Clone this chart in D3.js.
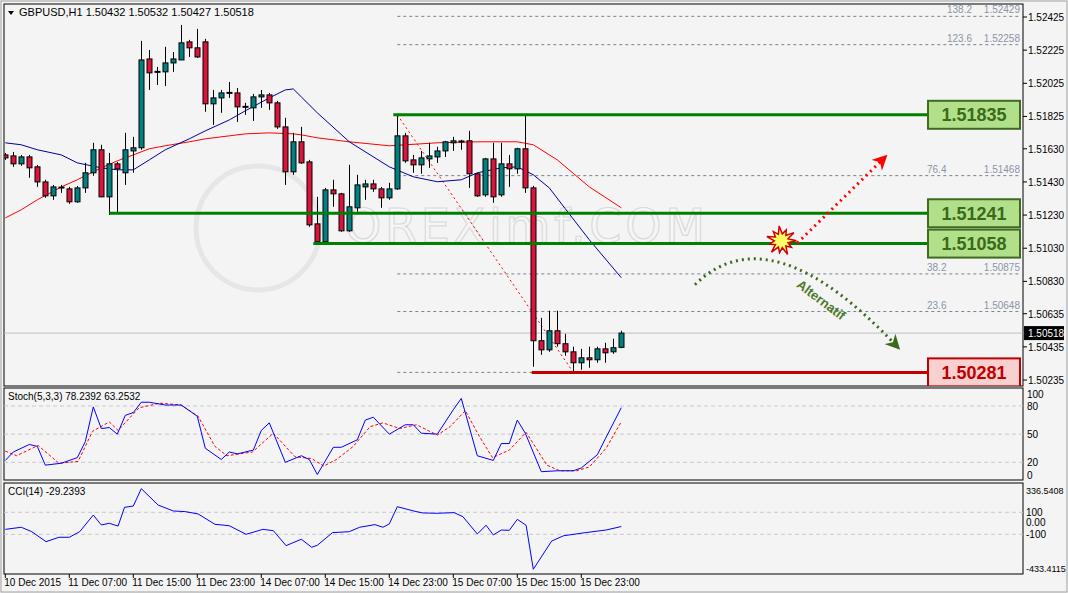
<!DOCTYPE html>
<html><head><meta charset="utf-8">
<script src="https://cdn.jsdelivr.net/npm/d3@7/dist/d3.min.js"></script>
<style>body{margin:0;background:#fff}svg{display:block;font-family:"Liberation Sans",Arial,sans-serif}</style>
</head><body><svg id="c" width="1068" height="593"></svg>
<script>
const opens=[1.51593,1.51587,1.51539,1.51581,1.51521,1.51430,1.51346,1.51394,1.51388,1.51310,1.51394,1.51485,1.51624,1.51340,1.51539,1.51485,1.51617,1.51636,1.52172,1.52094,1.52094,1.52148,1.52166,1.52275,1.52239,1.52275,1.51901,1.51937,1.51967,1.51967,1.51883,1.51877,1.51943,1.51955,1.51907,1.51762,1.51491,1.51672,1.51551,1.51177,1.51069,1.51382,1.51358,1.51135,1.51274,1.51400,1.51418,1.51388,1.51334,1.51388,1.51708,1.51563,1.51533,1.51569,1.51581,1.51617,1.51666,1.51672,1.51678,1.51479,1.51352,1.51569,1.51352,1.51539,1.51509,1.51630,1.51394,1.50472,1.50417,1.50532,1.50454,1.50405,1.50339,1.50369,1.50357,1.50423,1.50405,1.50432];
const highs=[1.51605,1.51611,1.51593,1.51593,1.51533,1.51443,1.51412,1.51412,1.51400,1.51406,1.51545,1.51666,1.51654,1.51605,1.51551,1.51726,1.51702,1.52281,1.52226,1.52124,1.52245,1.52214,1.52377,1.52287,1.52353,1.52293,1.51985,1.51985,1.52033,1.51997,1.51907,1.51961,1.51985,1.51967,1.51919,1.51817,1.51726,1.51762,1.51563,1.51340,1.51394,1.51443,1.51364,1.51533,1.51473,1.51443,1.51443,1.51400,1.51425,1.51829,1.51726,1.51593,1.51617,1.51666,1.51642,1.51678,1.51702,1.51684,1.51738,1.51485,1.51575,1.51666,1.51666,1.51593,1.51636,1.51829,1.51406,1.50610,1.50653,1.50653,1.50514,1.50436,1.50423,1.50436,1.50436,1.50460,1.50484,1.50532];
const lows=[1.51563,1.51521,1.51527,1.51455,1.51400,1.51334,1.51322,1.51364,1.51298,1.51304,1.51364,1.51467,1.51338,1.51231,1.51244,1.51412,1.51485,1.51624,1.51985,1.52015,1.52009,1.52094,1.52166,1.52184,1.52178,1.51853,1.51774,1.51847,1.51937,1.51792,1.51835,1.51798,1.51877,1.51865,1.51750,1.51412,1.51473,1.51539,1.51159,1.51063,1.51057,1.51280,1.51129,1.51129,1.51250,1.51322,1.51370,1.51274,1.51322,1.51382,1.51545,1.51485,1.51479,1.51515,1.51545,1.51581,1.51617,1.51624,1.51394,1.51340,1.51340,1.51304,1.51340,1.51400,1.51479,1.51364,1.50315,1.50387,1.50405,1.50436,1.50381,1.50281,1.50297,1.50309,1.50339,1.50339,1.50393,1.50427];
const closes=[1.51575,1.51539,1.51581,1.51515,1.51430,1.51346,1.51400,1.51396,1.51310,1.51394,1.51485,1.51624,1.51340,1.51539,1.51509,1.51624,1.51636,1.52166,1.52088,1.52094,1.52148,1.52172,1.52269,1.52239,1.52184,1.51901,1.51937,1.51967,1.51967,1.51883,1.51883,1.51943,1.51955,1.51907,1.51762,1.51491,1.51672,1.51545,1.51171,1.51069,1.51382,1.51358,1.51135,1.51280,1.51412,1.51418,1.51388,1.51334,1.51388,1.51708,1.51557,1.51533,1.51575,1.51587,1.51617,1.51672,1.51678,1.51674,1.51479,1.51346,1.51569,1.51340,1.51539,1.51509,1.51630,1.51394,1.50472,1.50417,1.50532,1.50454,1.50405,1.50339,1.50369,1.50357,1.50423,1.50399,1.50430,1.50518];
const maFast=[[0,1.51666],[2,1.51654],[4,1.51624],[7,1.51593],[9,1.51545],[12,1.51515],[14,1.51503],[16,1.51503],[18,1.51563],[20,1.51624],[23,1.51690],[25,1.51738],[28,1.51804],[30,1.51859],[33,1.51937],[35,1.51985],[36,1.51991],[37,1.51943],[39,1.51847],[43,1.51672],[48,1.51521],[51,1.51461],[54,1.51431],[57,1.51443],[59,1.51485],[62,1.51515],[64,1.51521],[66,1.51473],[68,1.51394],[70,1.51268],[73,1.51081],[77,1.50852]];
const maSlow=[[0,1.51213],[2,1.51262],[4,1.51322],[7,1.51400],[9,1.51443],[12,1.51515],[14,1.51557],[16,1.51593],[18,1.51630],[20,1.51648],[23,1.51672],[25,1.51690],[28,1.51708],[30,1.51720],[33,1.51726],[36,1.51720],[37,1.51714],[39,1.51696],[43,1.51672],[48,1.51648],[54,1.51666],[59,1.51672],[64,1.51672],[66,1.51654],[69,1.51563],[73,1.51400],[77,1.51274]];
const stochMain=[[0,22],[1,31],[3,39],[4,37],[5,17],[7,19],[9,25],[10,42],[11,79],[12,56],[13,57],[14,50],[15,70],[16,73],[17,84],[18,84],[20,81],[22,81],[24,69],[25,35],[27,23],[28,31],[29,29],[31,33],[32,54],[33,62],[35,20],[37,27],[38,23],[39,7],[41,36],[42,36],[44,44],[45,65],[46,68],[48,50],[50,60],[51,60],[52,51],[54,50],[56,76],[57,88],[59,27],[61,22],[62,40],[63,40],[64,65],[65,51],[67,10],[69,11],[71,11],[72,14],[74,28],[75,45],[77,78.24]];
const stochSignal=[[0,32],[1.4,27],[4.1,38],[6.7,19],[9.1,21],[10.9,53],[13,63],[14.1,54],[16.7,78],[19.3,83],[22,81],[24.1,69],[26.2,37],[27.7,27],[30.9,31],[33.5,51],[36.2,26],[38.3,24],[39.8,16],[41.4,23],[43.5,37],[45.6,58],[47.2,62],[49.3,56],[51.4,60],[54,49],[55.6,58],[57.5,75],[59.3,47],[60.9,25],[63,33],[65.1,52],[67.7,17],[69.3,11],[71.4,11],[73,15],[75.1,35],[77,63.25]];
const cci=[[0,-55],[2,-36],[3.3,-76],[5.1,-167],[6.7,-127],[8,-127],[9.3,-76],[11,75],[12,-15],[13,0],[14.1,-25],[14.9,145],[16,157],[17,315],[19.1,166],[21,112],[22.5,106],[24.1,85],[26.2,-9],[28,-22],[30.1,-100],[32.2,-55],[33.5,-67],[35.1,-203],[37,-145],[38.3,-218],[39,-200],[40.9,-85],[43,-76],[44.3,-36],[46.2,-12],[47.2,-36],[48,-6],[49,151],[51.2,109],[52.2,94],[54,91],[56.1,97],[57.2,60],[59,-97],[60.1,-18],[61,-106],[62,-61],[63,-64],[64,36],[65.1,-18],[66,-418],[68.3,-161],[69.8,-113],[72.5,-85],[75.1,-61],[77,-29.24]];
const priceTicks=[1.52425,1.52225,1.52025,1.51825,1.51630,1.51430,1.51230,1.51030,1.50830,1.50635,1.50435,1.50235];
const timeTicks=[[0,"10 Dec 2015"],[8,"11 Dec 07:00"],[16,"11 Dec 15:00"],[24,"11 Dec 23:00"],[32,"14 Dec 07:00"],[40,"14 Dec 15:00"],[48,"14 Dec 23:00"],[56,"15 Dec 07:00"],[64,"15 Dec 15:00"],[72,"15 Dec 23:00"]];
const fibLevels=[[138.2,1.52429],[123.6,1.52258],[76.4,1.51468],[38.2,1.50875],[23.6,1.50648]];
const keyLevels=[[1.51835,48.5,"g"],[1.51241,13,"g"],[1.51058,38.5,"g"],[1.50281,65.8,"r"]];
const stochTicks=[[100,394],[80,406],[50,434],[20,462],[0,475]];
const cciTicks=[["336.5408",490],["100",512],["0.00",522],["-100",534],["-433.4115",568]];

const svg=d3.select("#c");
const L=4,R=1023;
const x=d3.scaleLinear().domain([0,77]).range([5.3,621.3]);
const y=d3.scaleLinear().domain([1.50235,1.52425]).range([380,17]);
const ys=d3.scaleLinear().domain([0,100]).range([481.1,387.2]);
const yc=d3.scaleLinear().domain([-100,100]).range([534.3,512.3]);
svg.append("rect").attr("width",1068).attr("height",593).attr("fill","#f0f0f0");
svg.append("rect").attr("x",1).attr("y",1).attr("width",1066).attr("height",591).attr("fill","#f4f4f4").attr("stroke","#a0a0a0");
const panels=[[4,386],[388,480],[483,574]];
const defs=svg.append("defs");
panels.forEach((p,i)=>{defs.append("clipPath").attr("id","cp"+i).append("rect").attr("x",L).attr("y",p[0]).attr("width",R-L).attr("height",p[1]-p[0]);});
panels.forEach(p=>svg.append("rect").attr("x",L).attr("y",p[0]).attr("width",R-L).attr("height",p[1]-p[0]).attr("fill","#f4f4f4").attr("stroke","#000"));
const g=svg.append("g").attr("clip-path","url(#cp0)");

// watermark
g.append("circle").attr("cx",258).attr("cy",228).attr("r",62).attr("fill","none").attr("stroke","#e6e6e6").attr("stroke-width",5);
g.append("text").attr("x",345).attr("y",242).attr("font-size",46).attr("textLength",360).attr("fill","#f6f6f6").attr("stroke","#dadada").attr("stroke-width",1.2).attr("font-family","DejaVu Sans").text("OREXimf.COM");

// fib levels
const fx0=x(49);
fibLevels.concat([[0,1.50281]]).forEach(f=>{
  g.append("line").attr("x1",fx0).attr("x2",1020).attr("y1",y(f[1])).attr("y2",y(f[1])).attr("stroke","#7a8090").attr("stroke-dasharray","3,3");
});
fibLevels.forEach(f=>{
  g.append("text").attr("x",f[0]>100?947:927).attr("y",y(f[1])-3).attr("font-size",10).attr("fill","#8a94a6").text(f[0].toFixed(1));
  g.append("text").attr("x",1020).attr("y",y(f[1])-3).attr("font-size",10).attr("fill","#8a94a6").attr("text-anchor","end").text(f[1].toFixed(5));
});
g.append("line").attr("x1",L).attr("x2",R).attr("y1",y(closes[77])).attr("y2",y(closes[77])).attr("stroke","#c0c0c0");
g.append("line").attr("x1",x(49)).attr("y1",y(1.51835)).attr("x2",x(71)).attr("y2",y(1.50281)).attr("stroke","#ff0000").attr("stroke-dasharray","2,3");

const ln=(s,sc)=>d3.line().x(d=>x(d[0])).y(d=>sc(d[1]))(s);
g.append("path").attr("d",ln(maSlow,y)).attr("fill","none").attr("stroke","#ff0000");
g.append("path").attr("d",ln(maFast,y)).attr("fill","none").attr("stroke","#000099");

d3.range(78).forEach(i=>{
  const o=opens[i],c=closes[i],cx=Math.round(x(i))+0.5;
  g.append("line").attr("x1",cx).attr("x2",cx).attr("y1",y(highs[i])).attr("y2",y(lows[i])).attr("stroke","#000");
  const t=y(Math.max(o,c)),b=y(Math.min(o,c));
  if(b-t<1.5){g.append("line").attr("x1",cx-3).attr("x2",cx+3).attr("y1",t).attr("y2",t).attr("stroke","#000").attr("stroke-width",2);}
  else g.append("rect").attr("x",cx-2.5).attr("y",t).attr("width",5).attr("height",b-t).attr("fill",c>=o?"#008080":"#dc143c").attr("stroke","#000");
});

keyLevels.forEach(k=>{
  const col=k[2]=="g"?"#008000":"#c00000", yy=y(k[0]);
  g.append("line").attr("x1",x(k[1])).attr("x2",928).attr("y1",yy).attr("y2",yy).attr("stroke",col).attr("stroke-width",3);
  g.append("rect").attr("x",928).attr("y",yy-14).attr("width",92).attr("height",28).attr("fill",k[2]=="g"?"#b2e08a":"#f8d0d0").attr("stroke",k[2]=="g"?"#3f6a1f":"#c00000").attr("stroke-width",2);
  g.append("text").attr("x",974).attr("y",yy+6.5).attr("text-anchor","middle").attr("font-size",18).attr("font-weight","bold").attr("fill",k[2]=="g"?"#3a6a1a":"#c00000").text(k[0].toFixed(5));
});

const mk=(id,col)=>defs.append("marker").attr("id",id).attr("viewBox","0 0 10 10").attr("refX",8).attr("refY",5).attr("markerWidth",5).attr("markerHeight",5).attr("orient","auto").append("path").attr("d","M0,0L10,5L0,10L3,5Z").attr("fill",col);
mk("ar","#ff0000");mk("ag","#3a6a1a");
g.append("line").attr("x1",x(99)).attr("y1",y(1.51061)).attr("x2",x(110)).attr("y2",y(1.51581)).attr("stroke","#ff0000").attr("stroke-width",3).attr("stroke-dasharray","2,4").attr("marker-end","url(#ar)");
const gp=d3.path();gp.moveTo(x(86.2),y(1.50810));gp.quadraticCurveTo(x(95.6),y(1.51255),x(111.6),y(1.50430));
g.append("path").attr("d",gp.toString()).attr("fill","none").attr("stroke","#3a6a1a").attr("stroke-width",3).attr("stroke-dasharray","2,4").attr("marker-end","url(#ag)");
g.append("text").attr("transform",`translate(${x(98.8)},${y(1.50800)}) rotate(37)`).attr("font-size",13).attr("font-weight","bold").attr("fill","#4a7a2a").text("Alternatif");
const sx=x(97),sy=y(1.51075);
const pts=d3.range(22).map(i=>{const a=i/22*2*Math.PI,r=i%2?7:(15-(i%4)*1.5);return [sx+r*Math.cos(a),sy+r*Math.sin(a)];});
g.append("polygon").attr("points",pts.map(p=>p.join(",")).join(" ")).attr("fill","#ffff66").attr("stroke","#cc0000").attr("stroke-width",1.5);

svg.append("path").attr("d","M8,11L14,11L11,15Z").attr("fill","#000");
svg.append("text").attr("x",19).attr("y",16).attr("font-size",11).text("GBPUSD,H1  1.50432 1.50532 1.50427 1.50518");

priceTicks.forEach(p=>{
  svg.append("line").attr("x1",R).attr("x2",R+4).attr("y1",y(p)).attr("y2",y(p)).attr("stroke","#000");
  svg.append("text").attr("x",1028).attr("y",y(p)+4).attr("font-size",10).text(p.toFixed(5));
});
svg.append("rect").attr("x",1024).attr("y",y(closes[77])-7).attr("width",40).attr("height",14).attr("fill","#000");
svg.append("text").attr("x",1028).attr("y",y(closes[77])+4).attr("font-size",10).attr("fill","#fff").text(closes[77].toFixed(5));

const gs=svg.append("g").attr("clip-path","url(#cp1)");
[80,50,20].forEach(v=>gs.append("line").attr("x1",L).attr("x2",R).attr("y1",ys(v)).attr("y2",ys(v)).attr("stroke","#c8c8c8").attr("stroke-dasharray","4,3"));
gs.append("path").attr("d",ln(stochSignal,ys)).attr("fill","none").attr("stroke","#ff0000").attr("stroke-dasharray","3,2");
gs.append("path").attr("d",ln(stochMain,ys)).attr("fill","none").attr("stroke","#0000ff");
svg.append("text").attr("x",8).attr("y",400).attr("font-size",10).text("Stoch(5,3,3) 78.2392 63.2532");
stochTicks.forEach(t=>svg.append("text").attr("x",1027).attr("y",t[1]+4).attr("font-size",10).text(t[0]));

const gc=svg.append("g").attr("clip-path","url(#cp2)");
[100,-100].forEach(v=>gc.append("line").attr("x1",L).attr("x2",R).attr("y1",yc(v)).attr("y2",yc(v)).attr("stroke","#c8c8c8").attr("stroke-dasharray","4,3"));
gc.append("path").attr("d",ln(cci,yc)).attr("fill","none").attr("stroke","#0000ff");
svg.append("text").attr("x",8).attr("y",495).attr("font-size",10).text("CCI(14) -29.2393");
cciTicks.forEach(t=>svg.append("text").attr("x",1026).attr("y",t[1]+4).attr("font-size",t[0].length>6?9:10).text(t[0]));

timeTicks.forEach(t=>{
  svg.append("line").attr("x1",x(t[0])).attr("x2",x(t[0])).attr("y1",574).attr("y2",578).attr("stroke","#000");
  svg.append("text").attr("x",x(t[0])-1).attr("y",586).attr("font-size",10).text(t[1]);
});
</script></body></html>
